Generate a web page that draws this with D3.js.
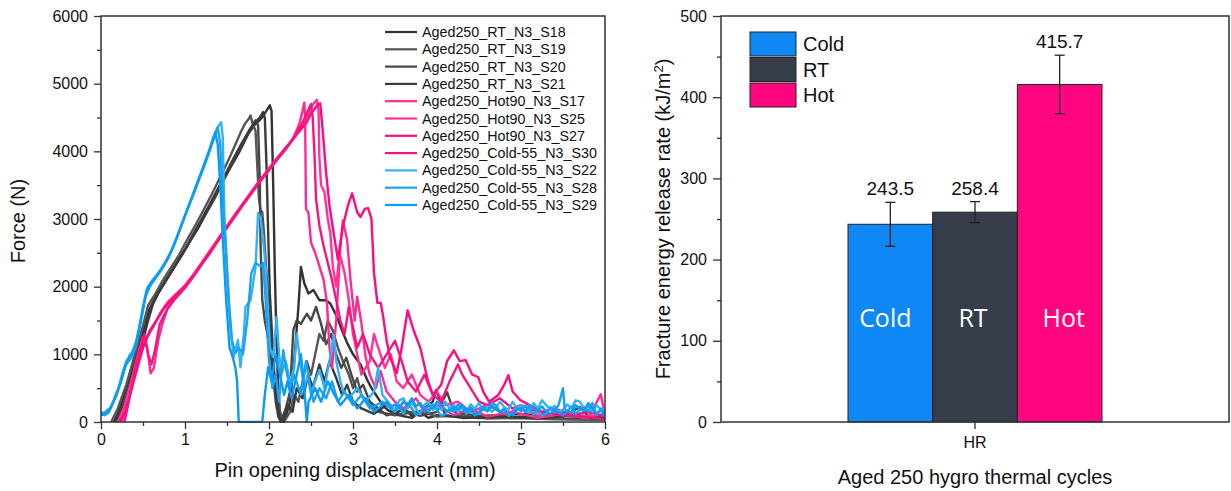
<!DOCTYPE html>
<html><head><meta charset="utf-8">
<script src="https://cdn.jsdelivr.net/npm/d3@7/dist/d3.min.js"></script>
<style>
html,body{margin:0;padding:0;background:#fff;}
svg{display:block;font-family:"Liberation Sans",Arial,sans-serif;}
</style></head>
<body><svg id="c" width="1231" height="491"></svg>
<script>
// ---------------- LEFT PANEL DATA (displacement mm, force N) ----------------
const xTicksLeft = [0,1,2,3,4,5,6];
const yTicksLeft = [0,1000,2000,3000,4000,5000,6000];
const curveNames = ["Aged250_RT_N3_S18","Aged250_RT_N3_S19","Aged250_RT_N3_S20","Aged250_RT_N3_S21",
  "Aged250_Hot90_N3_S17","Aged250_Hot90_N3_S25","Aged250_Hot90_N3_S27","Aged250_Cold-55_N3_S30",
  "Aged250_Cold-55_N3_S22","Aged250_Cold-55_N3_S28","Aged250_Cold-55_N3_S29"];

const rtS18 = [[0.15,0],[0.2,120],[0.3,480],[0.4,900],[0.5,1330],[0.57,1650],[0.65,1850],[0.75,2050],[0.85,2250],[0.95,2450],[1.05,2650],[1.15,2850],[1.25,3080],[1.35,3300],[1.45,3550],[1.55,3780],[1.65,4000],[1.75,4250],[1.82,4380],[1.88,4450],[1.93,4520],[1.97,4600],[2.01,4680],[2.03,4600],[2.05,3500],[2.07,2200],[2.09,1200],[2.11,500],[2.13,150],[2.16,0],[2.2,80],[2.25,300],[2.3,900],[2.35,1700],[2.38,2290],[2.42,2050],[2.47,1900],[2.53,1950],[2.6,1800],[2.68,1800],[2.73,1750],[2.81,1550],[2.87,1350],[2.93,1170],[3.0,1000],[3.09,850],[3.17,620],[3.22,500],[3.29,370],[3.35,250],[3.41,180],[3.5,120],[3.6,200],[3.7,90],[3.8,150],[3.9,60],[4.0,100],[4.2,80],[4.5,60],[5.0,80],[5.5,50],[6.0,60]];
const rtS19 = [[0.12,0],[0.2,200],[0.3,550],[0.4,980],[0.5,1420],[0.56,1720],[0.65,1900],[0.73,2080],[0.82,2260],[0.92,2450],[1.02,2680],[1.12,2900],[1.22,3130],[1.32,3370],[1.42,3620],[1.52,3880],[1.6,4100],[1.67,4300],[1.72,4420],[1.76,4480],[1.78,4530],[1.8,4430],[1.84,4300],[1.86,3800],[1.88,3300],[1.9,3130],[1.92,3100],[1.94,2800],[1.97,2200],[2.0,1600],[2.03,1100],[2.06,700],[2.1,350],[2.14,100],[2.18,0],[2.25,150],[2.3,400],[2.35,300],[2.4,600],[2.45,900],[2.5,700],[2.55,1000],[2.6,1300],[2.65,1200],[2.7,1500],[2.76,1350],[2.82,1100],[2.88,900],[2.95,700],[3.0,500],[3.05,650],[3.1,400],[3.2,250],[3.3,150],[3.5,100],[3.8,160],[4.0,80],[4.3,100],[4.6,50],[5.0,60],[5.4,40],[6.0,30]];
const rtS20 = [[0.18,0],[0.25,150],[0.35,500],[0.45,950],[0.55,1450],[0.62,1750],[0.7,1950],[0.8,2150],[0.9,2350],[1.0,2550],[1.1,2780],[1.2,3000],[1.3,3220],[1.4,3450],[1.5,3680],[1.6,3920],[1.7,4150],[1.77,4320],[1.81,4400],[1.84,4460],[1.87,4380],[1.89,3600],[1.9,2600],[1.92,1800],[1.95,1500],[1.98,1300],[2.02,1000],[2.05,650],[2.08,300],[2.11,80],[2.14,0],[2.2,200],[2.25,450],[2.29,1360],[2.33,1500],[2.38,1450],[2.45,1600],[2.5,1500],[2.56,1700],[2.62,1450],[2.68,1150],[2.74,1300],[2.8,1000],[2.86,800],[2.92,950],[2.98,700],[3.05,450],[3.12,550],[3.2,300],[3.3,200],[3.4,100],[3.6,180],[3.8,90],[4.0,150],[4.12,440],[4.2,150],[4.5,90],[5.0,120],[5.5,80],[5.7,220],[5.8,90],[6.0,80]];
const rtS21 = [[0.16,0],[0.22,100],[0.32,450],[0.42,880],[0.52,1350],[0.6,1700],[0.68,1900],[0.78,2100],[0.88,2300],[0.98,2500],[1.08,2720],[1.18,2950],[1.28,3180],[1.38,3420],[1.48,3660],[1.58,3900],[1.68,4130],[1.76,4300],[1.83,4420],[1.89,4500],[1.93,4580],[1.95,4500],[1.97,3800],[1.99,2800],[2.01,1900],[2.04,1200],[2.07,600],[2.1,250],[2.13,50],[2.17,0],[2.22,250],[2.28,150],[2.33,500],[2.4,350],[2.47,700],[2.52,500],[2.6,850],[2.66,600],[2.72,900],[2.8,650],[2.87,400],[2.93,550],[3.0,300],[3.1,200],[3.25,120],[3.4,250],[3.55,100],[3.7,60],[3.95,300],[3.99,470],[4.1,100],[4.3,60],[4.8,80],[5.2,50],[5.6,100],[6.0,50]];

const hotS17 = [[0.25,0],[0.3,250],[0.38,700],[0.45,1050],[0.5,1250],[0.55,1100],[0.59,720],[0.63,800],[0.68,1200],[0.73,1450],[0.8,1700],[0.9,1850],[1.0,1980],[1.1,2150],[1.2,2330],[1.3,2500],[1.4,2700],[1.5,2880],[1.6,3050],[1.7,3230],[1.8,3400],[1.9,3560],[2.0,3720],[2.1,3880],[2.2,4030],[2.3,4230],[2.36,4400],[2.4,4600],[2.42,4720],[2.43,4500],[2.44,3150],[2.47,3090],[2.5,2650],[2.55,2500],[2.6,2300],[2.65,2100],[2.69,1760],[2.72,1100],[2.75,800],[2.8,1500],[2.85,2590],[2.88,2980],[2.93,2690],[2.97,2100],[3.02,1500],[3.05,1850],[3.1,1460],[3.15,960],[3.2,700],[3.27,500],[3.33,750],[3.4,450],[3.5,300],[3.6,200],[3.75,350],[3.85,150],[4.0,250],[4.2,100],[4.4,200],[4.6,80],[4.9,150],[5.2,60],[5.5,120],[5.8,50],[5.95,410],[6.0,100]];
const hotS25 = [[0.2,0],[0.27,200],[0.35,550],[0.45,950],[0.55,1250],[0.62,1400],[0.7,1600],[0.8,1780],[0.9,1900],[1.0,2020],[1.1,2180],[1.2,2360],[1.3,2540],[1.4,2720],[1.5,2900],[1.6,3080],[1.7,3250],[1.8,3420],[1.9,3590],[2.0,3750],[2.1,3910],[2.2,4060],[2.3,4200],[2.4,4380],[2.46,4520],[2.5,4650],[2.54,4720],[2.57,4760],[2.59,4600],[2.6,3900],[2.62,3500],[2.66,3400],[2.7,3000],[2.73,2790],[2.76,2300],[2.8,2000],[2.84,2500],[2.9,2200],[2.95,1800],[3.0,1300],[3.05,1000],[3.1,700],[3.2,900],[3.25,1300],[3.3,1100],[3.38,800],[3.45,1000],[3.52,600],[3.6,500],[3.7,700],[3.8,400],[3.9,300],[4.0,450],[4.1,250],[4.25,300],[4.4,150],[4.6,250],[4.8,120],[5.0,200],[5.2,100],[5.5,150],[5.8,80],[6.0,120]];
const hotS27 = [[0.22,0],[0.3,180],[0.4,650],[0.5,1100],[0.58,1350],[0.66,1500],[0.75,1680],[0.85,1820],[0.95,1940],[1.05,2080],[1.15,2250],[1.25,2420],[1.35,2600],[1.45,2780],[1.55,2960],[1.65,3140],[1.75,3310],[1.85,3480],[1.95,3650],[2.05,3810],[2.15,3970],[2.25,4120],[2.35,4280],[2.45,4430],[2.5,4560],[2.55,4640],[2.58,4690],[2.61,4710],[2.64,4300],[2.68,3680],[2.72,3200],[2.77,2790],[2.82,2400],[2.88,2900],[2.94,3200],[2.99,3380],[3.05,3100],[3.09,3030],[3.14,3150],[3.18,3160],[3.22,3000],[3.25,2200],[3.29,1760],[3.33,1760],[3.36,1550],[3.4,1200],[3.44,960],[3.52,720],[3.58,1100],[3.65,1650],[3.72,1360],[3.8,1100],[3.89,620],[3.95,400],[4.05,550],[4.12,900],[4.2,1060],[4.27,900],[4.34,915],[4.42,700],[4.49,665],[4.55,450],[4.62,300],[4.73,400],[4.8,550],[4.85,690],[4.9,450],[4.99,325],[5.1,250],[5.25,150],[5.4,200],[5.6,100],[5.8,150],[6.0,80]];
const hotS30 = [[0.28,0],[0.33,300],[0.4,750],[0.47,1100],[0.52,1300],[0.56,1000],[0.6,850],[0.64,1050],[0.7,1450],[0.78,1650],[0.88,1820],[0.98,1960],[1.08,2120],[1.18,2300],[1.28,2480],[1.38,2660],[1.48,2840],[1.58,3020],[1.68,3200],[1.78,3370],[1.88,3540],[1.98,3700],[2.08,3860],[2.18,4010],[2.28,4170],[2.36,4330],[2.42,4480],[2.47,4620],[2.5,4700],[2.52,4500],[2.54,4000],[2.56,3300],[2.6,2900],[2.65,2600],[2.7,2350],[2.75,2100],[2.8,1800],[2.85,1500],[2.9,1300],[2.95,1700],[3.0,1400],[3.05,1100],[3.12,1300],[3.2,1000],[3.3,800],[3.4,1000],[3.5,1200],[3.58,900],[3.65,600],[3.75,450],[3.85,700],[3.95,400],[4.05,300],[4.15,600],[4.25,850],[4.3,700],[4.4,500],[4.5,300],[4.6,250],[4.75,350],[4.9,200],[5.0,250],[5.2,150],[5.5,100],[5.7,80],[5.9,60],[6.0,30]];

const coldS22 = [[0,150],[0.05,120],[0.1,170],[0.14,280],[0.2,450],[0.25,700],[0.3,900],[0.36,1000],[0.42,1200],[0.48,1550],[0.54,1950],[0.6,2080],[0.68,2200],[0.76,2350],[0.85,2560],[0.94,2850],[1.03,3150],[1.12,3430],[1.2,3700],[1.28,3960],[1.35,4200],[1.4,4380],[1.43,4430],[1.45,4200],[1.47,3000],[1.5,2300],[1.54,1400],[1.58,960],[1.63,1210],[1.66,810],[1.7,1300],[1.72,1700],[1.78,1800],[1.84,2290],[1.87,3090],[1.9,3000],[1.93,2700],[1.96,2290],[2.01,1100],[2.05,960],[2.09,1550],[2.12,1000],[2.15,720],[2.2,900],[2.25,600],[2.3,800],[2.33,1310],[2.37,900],[2.42,500],[2.46,700],[2.5,400],[2.55,600],[2.6,770],[2.66,500],[2.72,900],[2.77,1290],[2.8,900],[2.85,600],[2.88,470],[2.95,350],[3.05,500],[3.15,300],[3.25,450],[3.3,810],[3.35,400],[3.45,250],[3.5,180],[3.55,320],[3.6,350],[3.65,200],[3.7,280],[3.75,200],[3.8,120],[3.85,260],[3.9,300],[3.95,180],[4.0,240],[4.05,180],[4.1,300],[4.15,200],[4.2,250],[4.25,140],[4.3,220],[4.35,150],[4.4,260],[4.45,200],[4.5,280],[4.55,180],[4.6,230],[4.65,150],[4.7,200],[4.75,300],[4.8,220],[4.85,180],[4.9,300],[4.95,200],[5.0,250],[5.05,150],[5.1,150],[5.15,280],[5.2,200],[5.25,320],[5.3,250],[5.35,180],[5.4,240],[5.45,150],[5.5,180],[5.55,260],[5.6,200],[5.65,320],[5.7,300],[5.75,200],[5.8,230],[5.85,150],[5.9,250],[5.95,180],[6.0,200]];
const coldS28 = [[0,100],[0.06,160],[0.12,220],[0.18,380],[0.24,620],[0.3,850],[0.36,950],[0.41,1100],[0.47,1450],[0.53,1850],[0.58,2000],[0.66,2150],[0.74,2300],[0.82,2480],[0.91,2750],[1.0,3050],[1.08,3300],[1.16,3560],[1.24,3820],[1.31,4080],[1.36,4280],[1.39,4360],[1.42,4100],[1.45,3300],[1.48,2640],[1.52,1800],[1.56,1200],[1.6,1020],[1.64,1100],[1.69,1000],[1.74,1500],[1.79,2200],[1.84,2350],[1.9,2300],[1.93,2350],[1.96,1800],[2.0,900],[2.04,500],[2.08,700],[2.12,300],[2.17,1060],[2.2,800],[2.25,500],[2.3,700],[2.38,400],[2.44,900],[2.48,600],[2.53,300],[2.6,500],[2.68,350],[2.75,600],[2.82,300],[2.9,450],[3.0,250],[3.1,400],[3.2,200],[3.35,300],[3.5,150],[3.55,230],[3.6,120],[3.65,280],[3.7,200],[3.75,100],[3.8,150],[3.85,220],[3.9,140],[3.95,250],[4.0,180],[4.05,90],[4.1,120],[4.15,200],[4.2,150],[4.25,260],[4.3,220],[4.35,120],[4.4,180],[4.45,100],[4.5,150],[4.55,230],[4.6,160],[4.65,280],[4.7,250],[4.75,150],[4.8,200],[4.85,90],[4.9,120],[4.95,220],[5.0,160],[5.05,240],[5.1,200],[5.15,110],[5.2,180],[5.25,90],[5.3,130],[5.35,220],[5.4,150],[5.45,260],[5.5,500],[5.52,200],[5.55,150],[5.6,230],[5.65,120],[5.7,180],[5.75,220],[5.8,160],[5.85,280],[5.9,100],[5.95,200],[6.0,150]];
const coldS29 = [[0,120],[0.04,100],[0.09,140],[0.13,250],[0.18,420],[0.23,560],[0.28,800],[0.34,980],[0.4,1080],[0.45,1350],[0.5,1700],[0.56,2000],[0.63,2100],[0.71,2230],[0.8,2420],[0.88,2650],[0.97,2950],[1.06,3250],[1.14,3520],[1.22,3780],[1.29,4020],[1.33,4180],[1.36,4270],[1.39,4100],[1.42,3500],[1.45,2700],[1.49,1800],[1.53,1100],[1.57,950],[1.6,800],[1.62,600],[1.64,0],[1.92,0],[1.95,400],[1.99,810],[2.03,600],[2.08,1000],[2.13,700],[2.18,400],[2.22,600],[2.27,350],[2.33,700],[2.38,1000],[2.42,500],[2.45,0],[2.47,300],[2.55,500],[2.62,300],[2.7,600],[2.78,400],[2.85,250],[2.95,400],[3.05,200],[3.15,350],[3.25,150],[3.4,300],[3.45,220],[3.5,260],[3.55,200],[3.6,300],[3.65,250],[3.7,350],[3.75,230],[3.8,280],[3.85,180],[3.9,240],[3.95,200],[4.0,300],[4.05,260],[4.1,180],[4.15,150],[4.2,220],[4.25,190],[4.3,250],[4.35,170],[4.4,210],[4.45,130],[4.5,120],[4.55,200],[4.6,160],[4.65,240],[4.7,200],[4.75,140],[4.8,180],[4.85,120],[4.9,100],[4.95,180],[5.0,200],[5.05,150],[5.1,250],[5.15,200],[5.2,170],[5.25,230],[5.3,150],[5.35,120],[5.4,190],[5.45,140],[5.5,100],[5.55,170],[5.6,130],[5.65,250],[5.7,200],[5.75,160],[5.8,280],[5.85,200],[5.9,120],[5.95,180],[6.0,80]];

const curveData = [rtS18, rtS19, rtS20, rtS21, hotS17, hotS25, hotS27, hotS30, coldS22, coldS28, coldS29];
const curveColors = ["#333333","#555555","#474747","#3a3a3a","#ff2a92","#ff3399","#ff0a80","#f5157f","#35b2f5","#1aa3f0","#0a9cf5"];

// ---------------- RIGHT PANEL DATA ----------------
const groupCategory = ["HR"];
const barCategories = ["Cold","RT","Hot"];
const barValues = [243.5, 258.4, 415.7];
const barErrors = [27, 13, 36];
const yTicksRight = [0,100,200,300,400,500];
const barColors = ["#0f88f5","#363d4a","#ff0580"];

// ---------------- DRAW ----------------
const svg = d3.select("#c");
const axisColor = "#333";

// ===== Left panel =====
const L = {x0:101, x1:605, y0:422, y1:16};
const xL = d3.scaleLinear().domain([0,6]).range([L.x0, L.x1]);
const yL = d3.scaleLinear().domain([0,6000]).range([L.y0, L.y1]);

svg.append("clipPath").attr("id","clipL").append("rect")
  .attr("x",L.x0).attr("y",L.y1).attr("width",L.x1-L.x0).attr("height",L.y0-L.y1+1);

const line = d3.line().x(d=>xL(d[0])).y(d=>yL(d[1]));
const gLines = svg.append("g").attr("clip-path","url(#clipL)");
curveData.forEach((arr,i)=>{
  gLines.append("path").attr("d", line(arr)).attr("fill","none")
    .attr("stroke", curveColors[i]).attr("stroke-width",2.4).attr("stroke-linejoin","round");
});

// axes left
const gxL = svg.append("g").attr("transform",`translate(0,${L.y0})`)
  .call(d3.axisBottom(xL).tickValues(xTicksLeft).tickFormat(d3.format("d")).tickSize(7).tickPadding(5));
const gxLm = svg.append("g").attr("transform",`translate(0,${L.y0})`)
  .call(d3.axisBottom(xL).tickValues(d3.range(0.5,6,1)).tickFormat("").tickSize(4));
const gyL = svg.append("g").attr("transform",`translate(${L.x0},0)`)
  .call(d3.axisLeft(yL).tickValues(yTicksLeft).tickFormat(d3.format("d")).tickSize(7).tickPadding(6));
const gyLm = svg.append("g").attr("transform",`translate(${L.x0},0)`)
  .call(d3.axisLeft(yL).tickValues(d3.range(500,6000,1000)).tickFormat("").tickSize(4));
[gxL,gxLm,gyL,gyLm].forEach(g=>{
  g.select(".domain").remove();
  g.selectAll("line").attr("stroke",axisColor).attr("stroke-width",1.3);
  g.selectAll("text").attr("fill","#111").style("font-size","16px").style("font-family","Liberation Sans, Arial, sans-serif");
});
svg.append("rect").attr("x",L.x0).attr("y",L.y1).attr("width",L.x1-L.x0).attr("height",L.y0-L.y1)
  .attr("fill","none").attr("stroke",axisColor).attr("stroke-width",1.5);

svg.append("text").attr("x",(L.x0+L.x1)/2+2).attr("y",477).attr("text-anchor","middle")
  .style("font-size","20px").attr("fill","#111").text("Pin opening displacement (mm)");
svg.append("text").attr("transform","translate(25,221) rotate(-90)").attr("text-anchor","middle")
  .style("font-size","20px").attr("fill","#111").text("Force (N)");

// legend left
const legL = svg.append("g");
curveNames.forEach((n,i)=>{
  const yy = 32 + i*17.3;
  legL.append("line").attr("x1",385).attr("x2",417).attr("y1",yy).attr("y2",yy)
    .attr("stroke",curveColors[i]).attr("stroke-width",2.2);
  legL.append("text").attr("x",422).attr("y",yy+5).style("font-size","14.3px").attr("fill","#111").text(n);
});

// ===== Right panel =====
const R = {x0:721, x1:1229, y0:422, y1:16};
const xR = d3.scaleBand().domain(groupCategory).range([R.x0,R.x1]).paddingInner(0).paddingOuter(0.5);
const xIn = d3.scaleBand().domain(barCategories).range([0, xR.bandwidth()]);
const yR = d3.scaleLinear().domain([0,500]).range([R.y0,R.y1]);

const gBars = svg.append("g").attr("transform",`translate(${xR("HR")},0)`);
barCategories.forEach((c,i)=>{
  gBars.append("rect").attr("x",xIn(c)).attr("y",yR(barValues[i]))
    .attr("width",xIn.bandwidth()).attr("height",yR(0)-yR(barValues[i]))
    .attr("fill",barColors[i]).attr("stroke","#222").attr("stroke-width",1);
});
barCategories.forEach((c,i)=>{
  const cx = xIn(c)+xIn.bandwidth()/2;
  const hi = yR(barValues[i]+barErrors[i]), lo = yR(barValues[i]-barErrors[i]);
  gBars.append("line").attr("x1",cx).attr("x2",cx).attr("y1",hi).attr("y2",lo).attr("stroke","#222").attr("stroke-width",1.3);
  gBars.append("line").attr("x1",cx-5).attr("x2",cx+5).attr("y1",hi).attr("y2",hi).attr("stroke","#222").attr("stroke-width",1.3);
  gBars.append("line").attr("x1",cx-5).attr("x2",cx+5).attr("y1",lo).attr("y2",lo).attr("stroke","#222").attr("stroke-width",1.3);
  gBars.append("text").attr("x",cx).attr("y",hi-7).attr("text-anchor","middle")
    .style("font-size","19px").attr("fill","#111").text(barValues[i].toFixed(1));
  gBars.append("text").attr("x",cx + (i===0?-5:(i===2?4:-2))).attr("y",327).attr("text-anchor","middle")
    .style("font-size","25px").style("font-family","Open Sans, sans-serif").attr("fill","#fff").text(c);
});

const gyR = svg.append("g").attr("transform",`translate(${R.x0},0)`)
  .call(d3.axisLeft(yR).tickValues(yTicksRight).tickSize(8).tickPadding(6));
const gyRm = svg.append("g").attr("transform",`translate(${R.x0},0)`)
  .call(d3.axisLeft(yR).tickValues(d3.range(50,500,100)).tickFormat("").tickSize(4));
const gxR = svg.append("g").attr("transform",`translate(0,${R.y0})`)
  .call(d3.axisBottom(xR).tickSize(7).tickPadding(8));
[gyR,gyRm,gxR].forEach(g=>{
  g.select(".domain").remove();
  g.selectAll("line").attr("stroke",axisColor).attr("stroke-width",1.3);
  g.selectAll("text").attr("fill","#111").style("font-size","16px").style("font-family","Liberation Sans, Arial, sans-serif");
});
svg.append("rect").attr("x",R.x0).attr("y",R.y1).attr("width",R.x1-R.x0).attr("height",R.y0-R.y1)
  .attr("fill","none").attr("stroke",axisColor).attr("stroke-width",1.5);

svg.append("text").attr("x",(R.x0+R.x1)/2).attr("y",484).attr("text-anchor","middle")
  .style("font-size","20px").attr("fill","#111").text("Aged 250 hygro thermal cycles");
const yt = svg.append("text").attr("transform","translate(670,219) rotate(-90)").attr("text-anchor","middle")
  .style("font-size","20px").attr("fill","#111");
yt.append("tspan").text("Fracture energy release rate (kJ/m");
yt.append("tspan").attr("dy",-7).style("font-size","13px").text("2");
yt.append("tspan").attr("dy",7).text(")");

// legend right
barCategories.forEach((c,i)=>{
  const yy = 32 + i*25.5;
  svg.append("rect").attr("x",750).attr("y",yy).attr("width",46).attr("height",24)
    .attr("fill",barColors[i]).attr("stroke","#222").attr("stroke-width",1);
  svg.append("text").attr("x",803).attr("y",yy+19).style("font-size","20px").attr("fill","#111").text(c);
});
</script></body></html>
